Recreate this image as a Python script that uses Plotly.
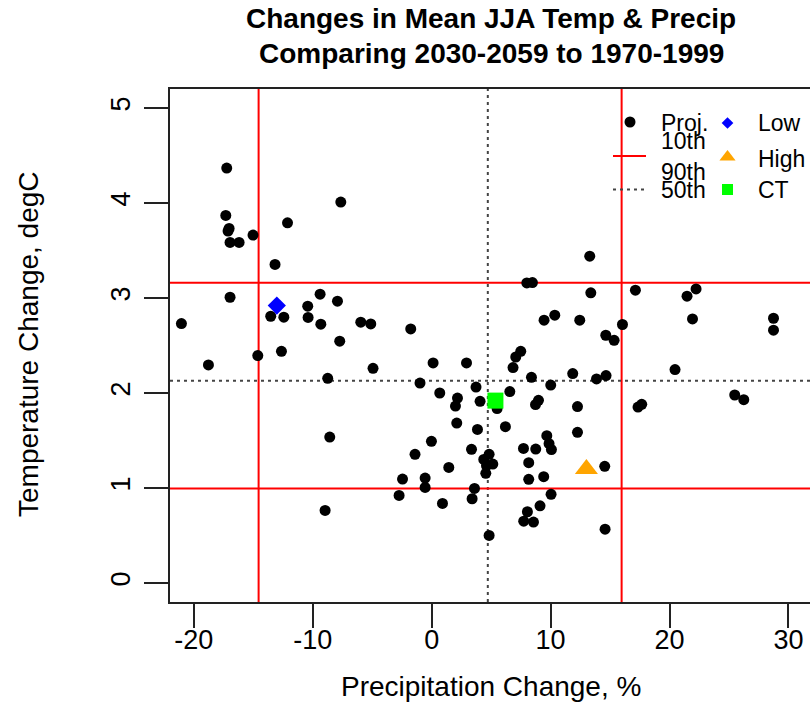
import plotly.graph_objects as go

# ---------------- data ----------------
proj_precip = [
    -17.23, -7.64, -17.31, -12.12, -17.03, -17.12, -16.95, -16.19, -15.02, -13.17,
    -16.95, -9.38, -7.92, -10.42, -13.53, -12.43, -10.39, -9.32, -21.04, -5.96,
    -5.12, -7.73, -12.63, -14.62, -18.77, -4.93, -8.74, 13.29, 8.00, 8.47,
    13.38, 17.13, 9.45, 10.35, 12.45, 16.04, -1.76, 14.64, 15.34, 0.12,
    2.93, 7.49, 7.07, 6.84, 11.86, 8.39, 13.86, 14.66, -0.98, 3.73,
    10.01, 0.68, 6.57, 2.17, 2.00, 4.07, 5.50, 8.98, 8.73, 12.26,
    2.11, 3.85, 6.20, 12.26, 9.68, 9.87, 10.07, -0.02, -1.40, 3.35,
    7.72, 8.75, 4.83, 4.38, 5.14, 4.61, 4.55, 8.16, 1.44, 14.55,
    -2.45, -0.55, -0.55, 8.16, 9.42, 3.60, 3.40, -2.74, 0.91, 10.04,
    9.11, 8.05, 7.74, 8.56, 14.58, 4.83, 21.47, 22.23, 21.93, 28.74,
    28.74, 20.46, 25.48, 26.24, 17.35, 17.66, -8.57, -8.96,
]
proj_temp = [
    4.368, 4.010, 3.869, 3.791, 3.732, 3.704, 3.585, 3.585, 3.662, 3.353,
    3.008, 3.040, 2.966, 2.914, 2.808, 2.798, 2.795, 2.724, 2.731, 2.745,
    2.727, 2.545, 2.439, 2.394, 2.295, 2.260, 2.155, 3.440, 3.159, 3.163,
    3.054, 3.082, 2.766, 2.819, 2.766, 2.721, 2.674, 2.608, 2.555, 2.316,
    2.316, 2.439, 2.379, 2.268, 2.204, 2.165, 2.148, 2.183, 2.105, 2.063,
    2.084, 2.000, 2.015, 1.947, 1.863, 1.913, 1.836, 1.923, 1.878, 1.857,
    1.684, 1.617, 1.646, 1.586, 1.551, 1.467, 1.404, 1.491, 1.354, 1.407,
    1.417, 1.410, 1.354, 1.301, 1.252, 1.235, 1.154, 1.267, 1.217, 1.228,
    1.094, 1.104, 1.006, 1.091, 1.119, 0.996, 0.887, 0.922, 0.838, 0.933,
    0.813, 0.750, 0.651, 0.641, 0.567, 0.501, 3.019, 3.096, 2.780, 2.787,
    2.661, 2.247, 1.979, 1.930, 1.852, 1.881, 1.536, 0.764,
]
low_precip, low_temp = [-13.02], [2.92]
high_precip, high_temp = [13.01], [1.20]
ct_precip, ct_temp = [5.36], [1.92]

precip_pct = [-14.55, 4.72, 15.97]   # 10th, 50th, 90th
temp_pct = [0.995, 2.13, 3.16]       # 10th, 50th, 90th

x_ticks = [-20, -10, 0, 10, 20, 30]
y_ticks = [0, 1, 2, 3, 4, 5]

legend_left = ["Proj.", "10th", "90th", "50th"]
legend_right = ["Low", "High", "CT"]

# ---------------- geometry ----------------
W, H = 810, 703
ML, MR, MT, MB = 170, 0, 89, 101
PW, PH = W - ML - MR, H - MT - MB
PX_PER_X = 11.894
X_RANGE = [-22, -22 + PW / PX_PER_X]
Y_RANGE = [-0.2, 5.2]
FONT = "Liberation Sans, Arial, sans-serif"


def px(xp):
    return (xp - ML) / PW


def py(yp):
    return (H - MB - yp) / PH


fig = go.Figure()

# projections
fig.add_trace(go.Scatter(x=proj_precip, y=proj_temp, mode="markers",
                         marker=dict(color="black", size=11, symbol="circle"),
                         showlegend=False, hoverinfo="skip"))
fig.add_trace(go.Scatter(x=low_precip, y=low_temp, mode="markers",
                         marker=dict(color="#0000FF", size=14, symbol="diamond"),
                         showlegend=False))
fig.add_trace(go.Scatter(x=high_precip, y=high_temp, mode="markers",
                         marker=dict(color="#FFA500", size=20, symbol="triangle-up"),
                         showlegend=False))
fig.add_trace(go.Scatter(x=ct_precip, y=ct_temp, mode="markers",
                         marker=dict(color="#00FF00", size=16, symbol="square"),
                         showlegend=False))

# percentile lines
red = dict(color="#FF0000", width=2)
dot = dict(color="#444444", width=2, dash="3px,4px")
for i, v in enumerate(precip_pct):
    fig.add_shape(type="line", xref="x", yref="paper", x0=v, x1=v, y0=0, y1=1,
                  line=dot if i == 1 else red, layer="below")
for i, v in enumerate(temp_pct):
    fig.add_shape(type="line", xref="paper", yref="y", x0=0, x1=1, y0=v, y1=v,
                  line=dot if i == 1 else red, layer="below")

# ---------------- legend (manual, pixel positioned) ----------------
fig.add_trace(go.Scatter(x=[630], y=[122], xaxis="x2", yaxis="y2", mode="markers",
                         marker=dict(color="black", size=11), showlegend=False))
fig.add_trace(go.Scatter(x=[613, 646], y=[156, 156], xaxis="x2", yaxis="y2", mode="lines",
                         line=red, showlegend=False))
fig.add_trace(go.Scatter(x=[613, 646], y=[189.5, 189.5], xaxis="x2", yaxis="y2", mode="lines",
                         line=dot, showlegend=False))
fig.add_trace(go.Scatter(x=[727.5], y=[123], xaxis="x2", yaxis="y2", mode="markers",
                         marker=dict(color="#0000FF", size=9, symbol="diamond"), showlegend=False))
fig.add_trace(go.Scatter(x=[727.5], y=[157], xaxis="x2", yaxis="y2", mode="markers",
                         marker=dict(color="#FFA500", size=14, symbol="triangle-up"), showlegend=False))
fig.add_trace(go.Scatter(x=[727.5], y=[189.5], xaxis="x2", yaxis="y2", mode="markers",
                         marker=dict(color="#00FF00", size=11, symbol="square"), showlegend=False))

leg_font = dict(family=FONT, size=23, color="black")
left_y = [123, 141, 171.5, 189.5]
for t, yy in zip(legend_left, left_y):
    fig.add_annotation(x=px(659), y=py(yy), xref="paper", yref="paper", text=t,
                       showarrow=False, xanchor="left", yanchor="middle", font=leg_font)
right_y = [123, 158.5, 190]
for t, yy in zip(legend_right, right_y):
    fig.add_annotation(x=px(756), y=py(yy), xref="paper", yref="paper", text=t,
                       showarrow=False, xanchor="left", yanchor="middle", font=leg_font)

# ---------------- titles ----------------
tfont = dict(family=FONT, size=28, color="black")
fig.add_annotation(x=px(491), y=py(19), xref="paper", yref="paper",
                   text="<b>Changes in Mean JJA Temp &amp; Precip</b>",
                   showarrow=False, xanchor="center", yanchor="middle", font=tfont)
fig.add_annotation(x=px(491), y=py(53), xref="paper", yref="paper",
                   text="<b>Comparing 2030-2059 to 1970-1999</b>",
                   showarrow=False, xanchor="center", yanchor="middle", font=tfont)
fig.add_annotation(x=px(491), y=py(686), xref="paper", yref="paper",
                   text="Precipitation Change, %",
                   showarrow=False, xanchor="center", yanchor="middle", font=tfont)
fig.add_annotation(x=px(28), y=py(344), xref="paper", yref="paper",
                   text="Temperature Change, degC", textangle=-90,
                   showarrow=False, xanchor="center", yanchor="middle", font=tfont)

tick_font = dict(family=FONT, size=27, color="black")
fig.update_layout(
    width=W, height=H,
    margin=dict(l=ML, r=MR, t=MT, b=MB, pad=0),
    paper_bgcolor="white", plot_bgcolor="white",
    showlegend=False,
    xaxis=dict(range=X_RANGE, tickvals=x_ticks, ticktext=[str(v) for v in x_ticks],
               showgrid=False, zeroline=False, showline=True, mirror=True,
               linecolor="#222222", linewidth=2, ticks="outside", ticklen=24,
               tickwidth=2, tickcolor="#222222", tickfont=tick_font,
               ticklabelstandoff=-11),
    yaxis=dict(range=Y_RANGE, tickvals=y_ticks, ticktext=[str(v) for v in y_ticks],
               showgrid=False, zeroline=False, showline=True, mirror=False,
               linecolor="#222222", linewidth=2, ticks="outside", ticklen=24,
               tickwidth=2, tickcolor="#222222", tickfont=tick_font, tickangle=-90,
               ticklabelstandoff=3),
    xaxis2=dict(overlaying="x", range=[ML, W - MR], visible=False, fixedrange=True),
    yaxis2=dict(overlaying="y", range=[H - MB, MT], visible=False, fixedrange=True),
)

fig.write_html("out.html")
